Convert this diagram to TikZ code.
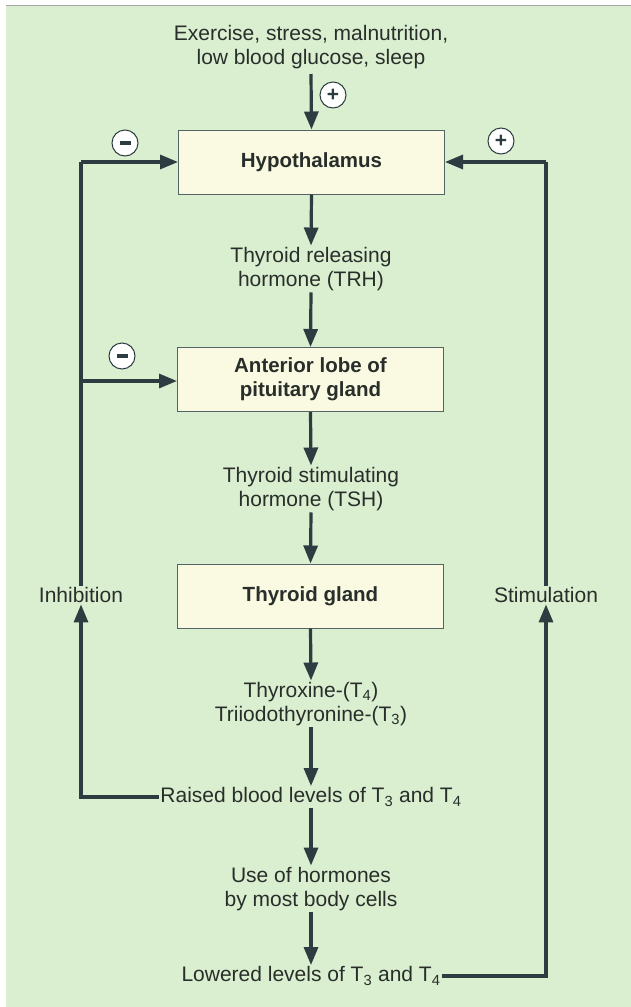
\documentclass[tikz,border=0pt]{standalone}
\usepackage{fontspec}
\setmainfont{Liberation Sans}
\usetikzlibrary{arrows.meta}
\definecolor{bg}{RGB}{218,238,208}
\definecolor{boxfill}{RGB}{250,250,226}
\definecolor{ln}{RGB}{44,60,64}
\definecolor{txt}{RGB}{40,46,42}
\tikzset{
  box/.style={draw=ln!80, line width=1pt, fill=boxfill, minimum width=266pt, minimum height=64pt, inner sep=0pt, align=center, font=\fontsize{20.5}{24}\selectfont\bfseries, text=txt},
  lbl/.style={align=center, inner sep=1.5pt, font=\fontsize{21}{24}\selectfont, text=txt},
  flow/.style={draw=ln, line width=3.2pt, -{Triangle[length=18pt,width=14pt]}},
  wire/.style={draw=ln, line width=3.2pt},
  sign/.style={circle, draw=ln, line width=1pt, fill=white, minimum size=26pt, inner sep=0pt, font=\fontsize{21}{21}\selectfont\bfseries, text=ln}
}
\begin{document}
\begin{tikzpicture}[x=1pt,y=-1pt]
\useasboundingbox (0,0) rectangle (631,1007);
\fill[white] (0,0) rectangle (631,1007);
\fill[bg] (6,6) rectangle (631,1007);
\draw[gray!70, line width=1.2pt] (6,5.5) -- (631,5.5);

\node[lbl] (ex) at (311,47) {Exercise, stress, malnutrition,\\low blood glucose, sleep};
\node[box] (hyp) at (311.5,162) {Hypothalamus};
\node[lbl] (trh) at (311,269) {Thyroid releasing\\hormone (TRH)};
\node[box] (ant) at (310.5,379.5) {Anterior lobe of\\pituitary gland};
\node[lbl] (tsh) at (311,489) {Thyroid stimulating\\hormone (TSH)};
\node[box] (thy) at (310.5,596) {Thyroid gland};
\node[lbl] (t4) at (311,704) {Thyroxine-(T\textsubscript{4})\\Triiodothyronine-(T\textsubscript{3})};
\node[lbl] (raised) at (311,797) {Raised blood levels of T\textsubscript{3} and T\textsubscript{4}};
\node[lbl] (use) at (311,889) {Use of hormones\\by most body cells};
\node[lbl] (low) at (311,976) {Lowered levels of T\textsubscript{3} and T\textsubscript{4}};
\node[lbl] (inh) at (81,595) {Inhibition};
\node[lbl] (stim) at (546,595) {Stimulation};

\node[sign] (p1) at (333,95) {+};
\node[sign] (m1) at (125,143) {\raisebox{0.5pt}{\rule{11pt}{3.5pt}}};
\node[sign] (p2) at (501,141) {+};
\node[sign] (m2) at (122,356) {\raisebox{0.5pt}{\rule{11pt}{3.5pt}}};

\coordinate (lt) at (81,162);
\coordinate (lm) at (81,381);
\coordinate (lb) at (81,797);
\coordinate (rt) at (546,162);
\coordinate (rb) at (546,976);

\draw[flow] (311,74) -- (hyp.north);
\draw[flow] (hyp.south) -- (trh.north);
\draw[flow] (trh.south) -- (ant.north);
\draw[flow] (ant.south) -- (tsh.north);
\draw[flow] (tsh.south) -- (thy.north);
\draw[flow] (thy.south) -- (t4.north);
\draw[flow] (t4.south) -- (raised.north);
\draw[flow] (raised.south) -- (use.north);
\draw[flow] (use.south) -- (low.north);

\draw[wire] (inh.north) -- (lt);
\draw[flow] (lt) -- (hyp.west);
\draw[flow] (lm) -- (lm -| ant.west);
\draw[flow] (raised.west) -- (lb) -- (inh.south);

\draw[wire] (stim.north) -- (rt);
\draw[flow] (rt) -- (hyp.east);
\draw[flow] (low.east) -- (rb) -- (stim.south);
\end{tikzpicture}
\end{document}
